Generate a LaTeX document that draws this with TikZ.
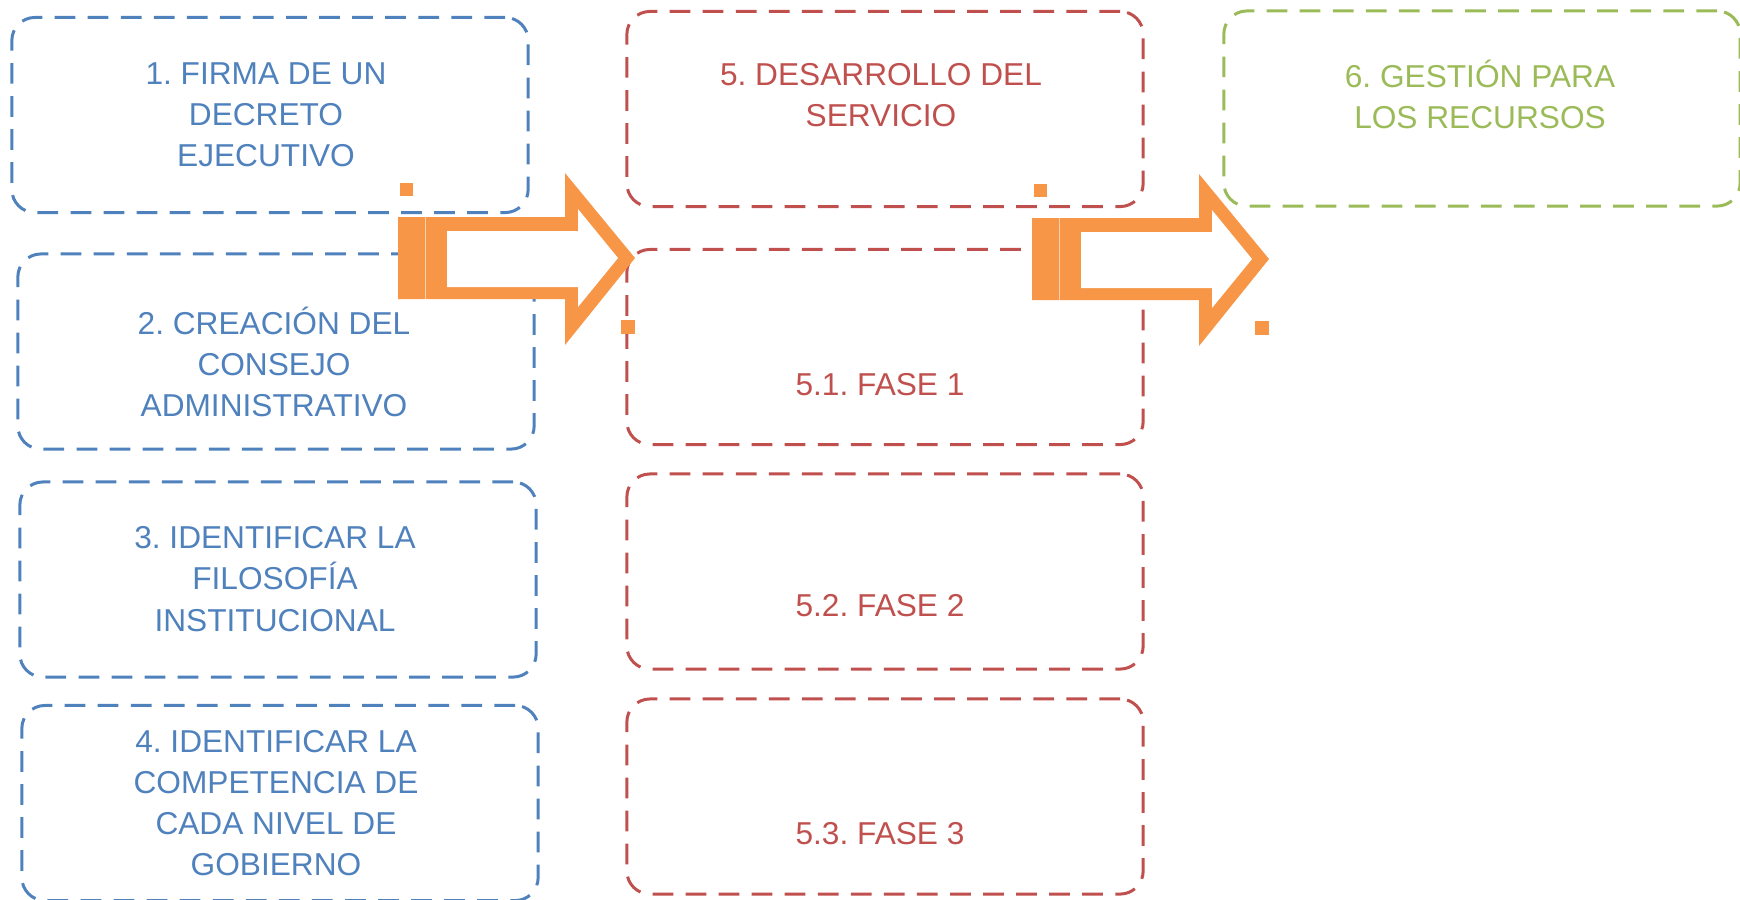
\documentclass[tikz,border=0pt]{standalone}
\usepackage{fontspec}
\setmainfont{Liberation Sans}
\usepackage{xcolor}
\definecolor{AzulPaso}{RGB}{79,129,189}
\definecolor{RojoServicio}{RGB}{192,80,77}
\definecolor{VerdeRecurso}{RGB}{155,187,89}
\definecolor{NaranjaFlecha}{RGB}{247,150,70}
\usepackage{tikz}
\frenchspacing

\begin{document}
\begin{tikzpicture}[
    x=0.01cm, y=-0.01cm,
    caja/.style={
        draw, line width=0.85pt,
        dash pattern=on 5.9pt off 3.5pt,
        rounded corners=0.23cm,
        minimum width=5.16cm, minimum height=1.95cm,
        inner sep=0pt
    },
    pasobox/.style={caja, draw=AzulPaso},
    serviciobox/.style={caja, draw=RojoServicio},
    recursobox/.style={caja, draw=VerdeRecurso},
    texto/.style={
        font=\fontsize{9}{11.7}\selectfont,
        align=center, inner sep=0pt
    },
    pasotxt/.style={texto, text=AzulPaso},
    serviciotxt/.style={texto, text=RojoServicio},
    recursotxt/.style={texto, text=VerdeRecurso},
    flecha/.style={fill=NaranjaFlecha},
    hueco/.style={fill=white},
    marca/.style={fill=NaranjaFlecha}
]

\useasboundingbox (0,0) rectangle (1740,899);

% ====== PASOS PREVIOS (columna azul) ======
\node[pasobox] (decreto)    at (270,115)   {};
\node[pasobox] (consejo)    at (276,351.5) {};
\node[pasobox] (filosofia)  at (278,579.5) {};
\node[pasobox] (competencia) at (280,803)  {};

\node[pasotxt] (decretotxt)     at (266,115) {1. FIRMA DE UN\\DECRETO\\EJECUTIVO};
\node[pasotxt] (consejotxt)     at (274,362) {2. CREACIÓN DEL\\CONSEJO\\ADMINISTRATIVO};
\node[pasotxt] (filosofiatxt)   at (275,579) {3. IDENTIFICAR LA\\FILOSOFÍA\\INSTITUCIONAL};
\node[pasotxt] (competenciatxt) at (276,803) {4. IDENTIFICAR LA\\COMPETENCIA DE\\CADA NIVEL DE\\GOBIERNO};

% ====== DESARROLLO DEL SERVICIO (columna roja) ======
\node[serviciobox] (servicio) at (885,109)   {};
\node[serviciobox] (fase1)    at (885,347)   {};
\node[serviciobox] (fase2)    at (885,571.5) {};
\node[serviciobox] (fase3)    at (885,796.5) {};

\node[serviciotxt] (serviciotxt) at (881,95)  {5. DESARROLLO DEL\\SERVICIO};
\node[serviciotxt] (fase1txt)    at (880,385) {5.1. FASE 1};
\node[serviciotxt] (fase2txt)    at (880,606) {5.2. FASE 2};
\node[serviciotxt] (fase3txt)    at (880,834) {5.3. FASE 3};

% ====== RECURSOS (verde) ======
\node[recursobox] (recursos)    at (1482,108.5) {};
\node[recursotxt] (recursostxt) at (1480,94) {6. GESTIÓN PARA\\LOS RECURSOS};

% ====== FLECHAS ======
\foreach \dx/\dy in {0/0, 634/1} {
    \begin{scope}[shift={(\dx,\dy)}]
        \fill[flecha] (398,217) -- (565,217) -- (565,173) -- (635,258)
            -- (565,345) -- (565,299) -- (398,299) -- cycle;
        \fill[hueco] (447,231) -- (578,231) -- (578,209) -- (618,258)
            -- (578,307) -- (578,287) -- (447,287) -- cycle;
        \draw[NaranjaFlecha!45, line width=0.25pt] (425,217) -- (425,299);
        \fill[marca] (400,183) rectangle (413,196);
        \fill[marca] (621,320) rectangle (635,334);
    \end{scope}
}

\end{tikzpicture}
\end{document}
